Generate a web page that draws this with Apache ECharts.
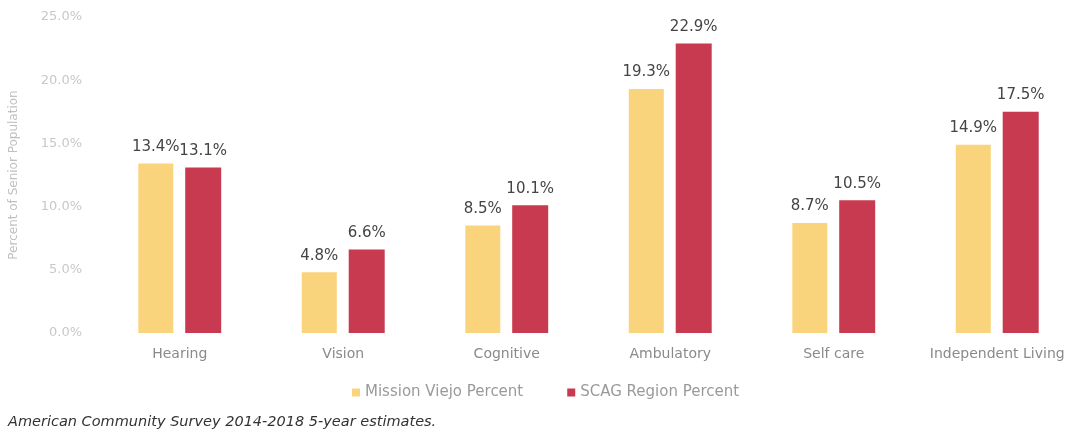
<!DOCTYPE html>
<html lang="en">
<head>
    <meta charset="utf-8">
    <title>Disability types</title>
    <script src="https://cdn.jsdelivr.net/npm/echarts@6/dist/echarts.min.js"></script>
    <style>
        html, body { margin: 0; padding: 0; background: #fff; overflow: hidden; }
        /* the source chart is cut off at the right edge, so draw a bit wider */
        #main { width: 1085px; height: 433px; }
    </style>
</head>
<body>
    <div id="main"></div>
    <script type="text/javascript">
        // data
        var categories = ['Hearing', 'Vision', 'Cognitive', 'Ambulatory', 'Self care', 'Independent Living'];
        var missionViejo = [13.4, 4.8, 8.5, 19.3, 8.7, 14.9];
        var scagRegion = [13.1, 6.6, 10.1, 22.9, 10.5, 17.5];
        var yTicks = [0, 5, 10, 15, 20, 25];

        var myChart = echarts.init(document.getElementById('main'));

        var labelStyle = {
            show: true,
            position: 'top',
            distance: 9,
            color: '#444',
            fontSize: 15,
            fontFamily: 'DejaVu Sans',
            formatter: function (p) { return p.value.toFixed(1) + '%'; }
        };

        var option = {
            animation: false,
            textStyle: { fontFamily: 'DejaVu Sans' },
            grid: { left: 96, right: 6, top: 17, bottom: 100, containLabel: false },
            legend: {
                top: 380,
                left: 347,
                icon: 'rect',
                itemWidth: 8,
                itemHeight: 8,
                itemGap: 44,
                textStyle: { color: '#9a9a9a', fontSize: 15 },
                data: ['Mission Viejo Percent', 'SCAG Region Percent']
            },
            xAxis: {
                type: 'category',
                data: categories,
                axisLine: { show: false },
                axisTick: { show: false },
                axisLabel: { color: '#8a8a8a', fontSize: 14, margin: 14, interval: 0 }
            },
            yAxis: {
                type: 'value',
                min: yTicks[0],
                max: yTicks[yTicks.length - 1],
                interval: 5,
                name: 'Percent of Senior Population',
                nameLocation: 'middle',
                nameGap: 78,
                nameTextStyle: { color: '#c0c0c0', fontSize: 12 },
                splitLine: { show: false },
                axisLine: { show: false },
                axisTick: { show: false },
                axisLabel: {
                    color: '#c8c8c8',
                    fontSize: 13,
                    margin: 16,
                    formatter: function (v) { return v.toFixed(1) + '%'; }
                }
            },
            series: [{
                name: 'Mission Viejo Percent',
                type: 'bar',
                data: missionViejo,
                barWidth: 35,
                barGap: '34%',
                itemStyle: { color: '#fad47c' },
                label: labelStyle
            }, {
                name: 'SCAG Region Percent',
                type: 'bar',
                data: scagRegion,
                barWidth: 36,
                itemStyle: { color: '#c83a4f' },
                label: labelStyle
            }],
            graphic: [{
                type: 'text',
                left: 8,
                top: 415,
                style: {
                    text: 'American Community Survey 2014-2018 5-year estimates.',
                    fill: '#333',
                    fontSize: 14.5,
                    fontStyle: 'italic',
                    fontFamily: 'DejaVu Sans'
                }
            }]
        };

        myChart.setOption(option);
    </script>
</body>
</html>
